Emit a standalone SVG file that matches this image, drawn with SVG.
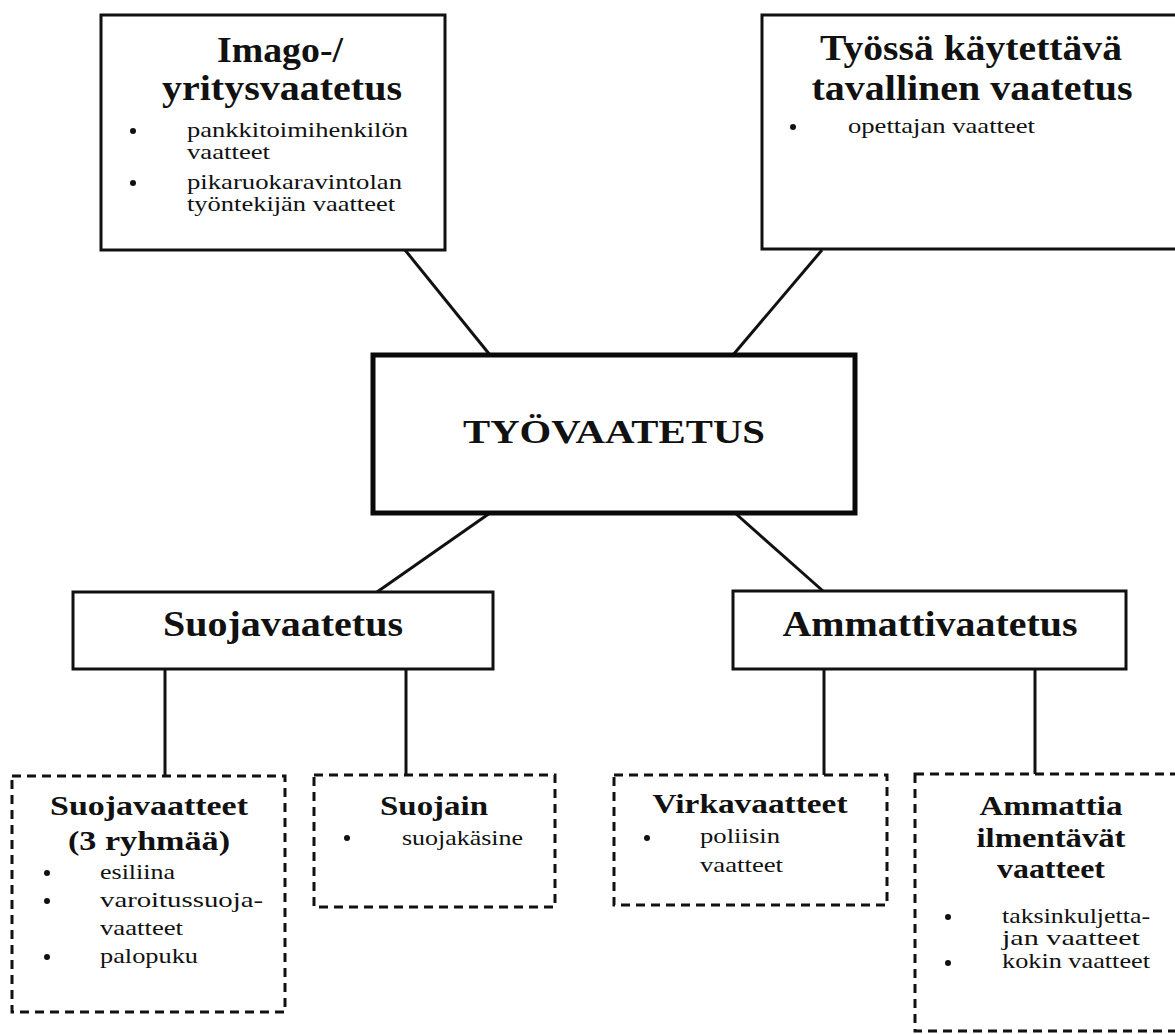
<svg xmlns="http://www.w3.org/2000/svg" width="1175" height="1034" viewBox="0 0 1175 1034">
<style>
.box{fill:#fff;stroke:#111;stroke-width:3}
.main{fill:#fff;stroke:#0a0a0a;stroke-width:5}
.dash{fill:#fff;stroke:#111;stroke-width:3;stroke-dasharray:9 6}
.conn line{stroke:#111;stroke-width:3}
text{font-family:"Liberation Serif","Times New Roman",serif;fill:#111}
.t{font-weight:bold;font-size:35px}
.h{font-weight:bold;font-size:27px}
.i{font-size:21px}
.b{fill:#111}
</style>
<rect width="1175" height="1034" fill="#fff"/>
<g id="connectors" class="conn">
<line x1="405" y1="250" x2="490" y2="355"/>
<line x1="822" y1="250" x2="733" y2="355"/>
<line x1="490" y1="513" x2="377" y2="592"/>
<line x1="735" y1="513" x2="823" y2="591"/>
<line x1="165" y1="669" x2="165" y2="776"/>
<line x1="406" y1="669" x2="406" y2="775"/>
<line x1="824" y1="669" x2="824" y2="775"/>
<line x1="1035" y1="669" x2="1035" y2="774"/>
</g>
<g id="imago">
<rect class="box" x="101" y="15" width="344" height="235"/>
<text class="t" x="280" y="62" text-anchor="middle" textLength="126" lengthAdjust="spacingAndGlyphs">Imago-/</text>
<text class="t" x="282" y="100" text-anchor="middle" textLength="240" lengthAdjust="spacingAndGlyphs">yritysvaatetus</text>
<circle class="b" cx="133" cy="131" r="3"/>
<text class="i" x="187" y="137" textLength="221" lengthAdjust="spacingAndGlyphs">pankkitoimihenkilön</text>
<text class="i" x="187" y="159" textLength="83" lengthAdjust="spacingAndGlyphs">vaatteet</text>
<circle class="b" cx="133" cy="183" r="3"/>
<text class="i" x="187" y="189" textLength="215" lengthAdjust="spacingAndGlyphs">pikaruokaravintolan</text>
<text class="i" x="187" y="211" textLength="208" lengthAdjust="spacingAndGlyphs">työntekijän vaatteet</text>
</g>
<g id="tavallinen">
<rect class="box" x="762" y="15" width="430" height="234"/>
<text class="t" x="971" y="60" text-anchor="middle" textLength="302" lengthAdjust="spacingAndGlyphs">Työssä käytettävä</text>
<text class="t" x="972" y="100" text-anchor="middle" textLength="321" lengthAdjust="spacingAndGlyphs">tavallinen vaatetus</text>
<circle class="b" cx="793" cy="127" r="3"/>
<text class="i" x="848" y="133" textLength="187" lengthAdjust="spacingAndGlyphs">opettajan vaatteet</text>
</g>
<g id="tyovaatetus">
<rect class="main" x="373" y="355" width="482" height="158"/>
<text x="614" y="443" text-anchor="middle" style="font-weight:bold;font-size:34px" textLength="302" lengthAdjust="spacingAndGlyphs">TYÖVAATETUS</text>
</g>
<g id="suojavaatetus">
<rect class="box" x="73" y="592" width="420" height="77"/>
<text class="t" x="283" y="636" text-anchor="middle" textLength="240" lengthAdjust="spacingAndGlyphs">Suojavaatetus</text>
</g>
<g id="ammattivaatetus">
<rect class="box" x="733" y="591" width="393" height="78"/>
<text class="t" x="930" y="636" text-anchor="middle" textLength="295" lengthAdjust="spacingAndGlyphs">Ammattivaatetus</text>
</g>
<g id="suojavaatteet">
<rect class="dash" x="12" y="776" width="273" height="236"/>
<text class="h" x="149" y="815" text-anchor="middle" textLength="198" lengthAdjust="spacingAndGlyphs">Suojavaatteet</text>
<text class="h" x="149" y="850" text-anchor="middle" textLength="162" lengthAdjust="spacingAndGlyphs">(3 ryhmää)</text>
<circle class="b" cx="47" cy="873" r="3"/>
<text class="i" x="100" y="879" textLength="75" lengthAdjust="spacingAndGlyphs">esiliina</text>
<circle class="b" cx="47" cy="901" r="3"/>
<text class="i" x="100" y="907" textLength="163" lengthAdjust="spacingAndGlyphs">varoitussuoja-</text>
<text class="i" x="100" y="935" textLength="83" lengthAdjust="spacingAndGlyphs">vaatteet</text>
<circle class="b" cx="47" cy="957" r="3"/>
<text class="i" x="100" y="963" textLength="98" lengthAdjust="spacingAndGlyphs">palopuku</text>
</g>
<g id="suojain">
<rect class="dash" x="314" y="775" width="241" height="132"/>
<text class="h" x="434" y="815" text-anchor="middle" textLength="108" lengthAdjust="spacingAndGlyphs">Suojain</text>
<circle class="b" cx="347" cy="838" r="3"/>
<text class="i" x="402" y="845" textLength="121" lengthAdjust="spacingAndGlyphs">suojakäsine</text>
</g>
<g id="virkavaatteet">
<rect class="dash" x="614" y="775" width="273" height="130"/>
<text class="h" x="750" y="813" text-anchor="middle" textLength="195" lengthAdjust="spacingAndGlyphs">Virkavaatteet</text>
<circle class="b" cx="647" cy="838" r="3"/>
<text class="i" x="700" y="843" textLength="80" lengthAdjust="spacingAndGlyphs">poliisin</text>
<text class="i" x="700" y="872" textLength="83" lengthAdjust="spacingAndGlyphs">vaatteet</text>
</g>
<g id="ammattia">
<rect class="dash" x="915" y="774" width="280" height="257"/>
<text class="h" x="1051" y="815" text-anchor="middle" textLength="143" lengthAdjust="spacingAndGlyphs">Ammattia</text>
<text class="h" x="1051" y="847" text-anchor="middle" textLength="149" lengthAdjust="spacingAndGlyphs">ilmentävät</text>
<text class="h" x="1051" y="878" text-anchor="middle" textLength="108" lengthAdjust="spacingAndGlyphs">vaatteet</text>
<circle class="b" cx="948" cy="917" r="3"/>
<text class="i" x="1002" y="923" textLength="148" lengthAdjust="spacingAndGlyphs">taksinkuljetta-</text>
<text class="i" x="1002" y="945" textLength="138" lengthAdjust="spacingAndGlyphs">jan vaatteet</text>
<circle class="b" cx="948" cy="963" r="3"/>
<text class="i" x="1002" y="968" textLength="148" lengthAdjust="spacingAndGlyphs">kokin vaatteet</text>
</g>
</svg>
